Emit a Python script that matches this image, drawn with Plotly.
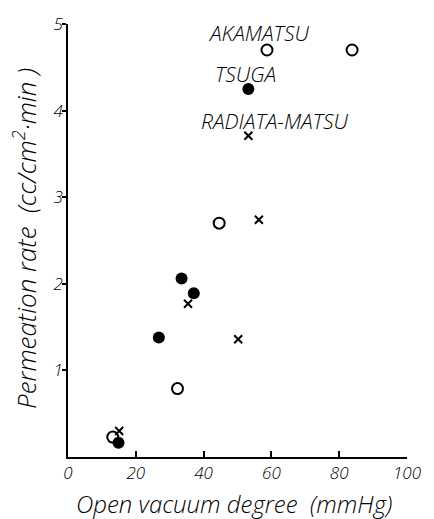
import plotly.graph_objects as go

# Data
akamatsu_x = [58.7, 83.8, 44.6, 32.3, 13.2]
akamatsu_y = [4.70, 4.70, 2.70, 0.79, 0.23]

tsuga_x = [53.2, 33.5, 37.1, 26.8, 14.9]
tsuga_y = [4.25, 2.06, 1.89, 1.38, 0.165]

radiata_x = [53.2, 56.3, 35.4, 50.2, 15.1]
radiata_y = [3.71, 2.74, 1.77, 1.36, 0.30]

label_texts = ["AKAMATSU", "TSUGA", "RADIATA-MATSU"]
label_x = [56.3, 52.5, 61.2]
label_y = [4.90, 4.42, 3.88]

x_ticks = [0, 20, 40, 60, 80, 100]
y_ticks = [1, 2, 3, 4, 5]

FONT = "Open Sans"
W = 300

fig = go.Figure()
fig.add_trace(go.Scatter(
    x=akamatsu_x, y=akamatsu_y, mode="markers", name="AKAMATSU",
    marker=dict(symbol="circle-open", size=11, color="black", line=dict(width=2, color="black")),
))
fig.add_trace(go.Scatter(
    x=tsuga_x, y=tsuga_y, mode="markers", name="TSUGA",
    marker=dict(symbol="circle", size=12, color="black", line=dict(width=0)),
))
fig.add_trace(go.Scatter(
    x=radiata_x, y=radiata_y, mode="markers", name="RADIATA-MATSU",
    marker=dict(symbol="x-thin", size=8, color="black", line=dict(width=2, color="black")),
))

for t, lx, ly in zip(label_texts, label_x, label_y):
    fig.add_annotation(x=lx, y=ly, xref="x", yref="y", text=t, showarrow=False,
                       xanchor="center", yanchor="middle",
                       font=dict(family=FONT, size=21, color="black", style="italic", weight=W))

fig.add_annotation(x=-0.125, y=0.505, xref="paper", yref="paper",
                   text="Permeation rate  (cc/cm<sup>2</sup>·min )", textangle=-90,
                   showarrow=False, xanchor="center", yanchor="middle",
                   font=dict(family=FONT, size=26, color="black", style="italic", weight=W))
fig.add_annotation(x=0.491, y=-0.108, xref="paper", yref="paper",
                   text="Open vacuum degree  (mmHg)",
                   showarrow=False, xanchor="center", yanchor="middle",
                   font=dict(family=FONT, size=24, color="black", style="italic", weight=W))

fig.update_layout(
    width=434, height=519,
    margin=dict(l=68, r=16, t=22, b=62),
    plot_bgcolor="white", paper_bgcolor="white",
    showlegend=False,
    font=dict(family=FONT, size=17, color="black", style="italic", weight=W),
    xaxis=dict(range=[0, 100], tickvals=x_ticks, ticks="inside", ticklen=6,
               tickwidth=1.5, tickcolor="black", showline=True, linecolor="black",
               linewidth=1.5, showgrid=False, zeroline=False,
               tickfont=dict(family=FONT, size=17, style="italic", weight=W)),
    yaxis=dict(range=[0, 5], tickvals=y_ticks, ticks="outside", ticklen=4,
               tickwidth=1.5, tickcolor="black", showline=True, linecolor="black",
               linewidth=1.5, showgrid=False, zeroline=False, ticklabelstandoff=-4,
               tickfont=dict(family=FONT, size=17, style="italic", weight=W)),
)

fig.write_html("out.html")
